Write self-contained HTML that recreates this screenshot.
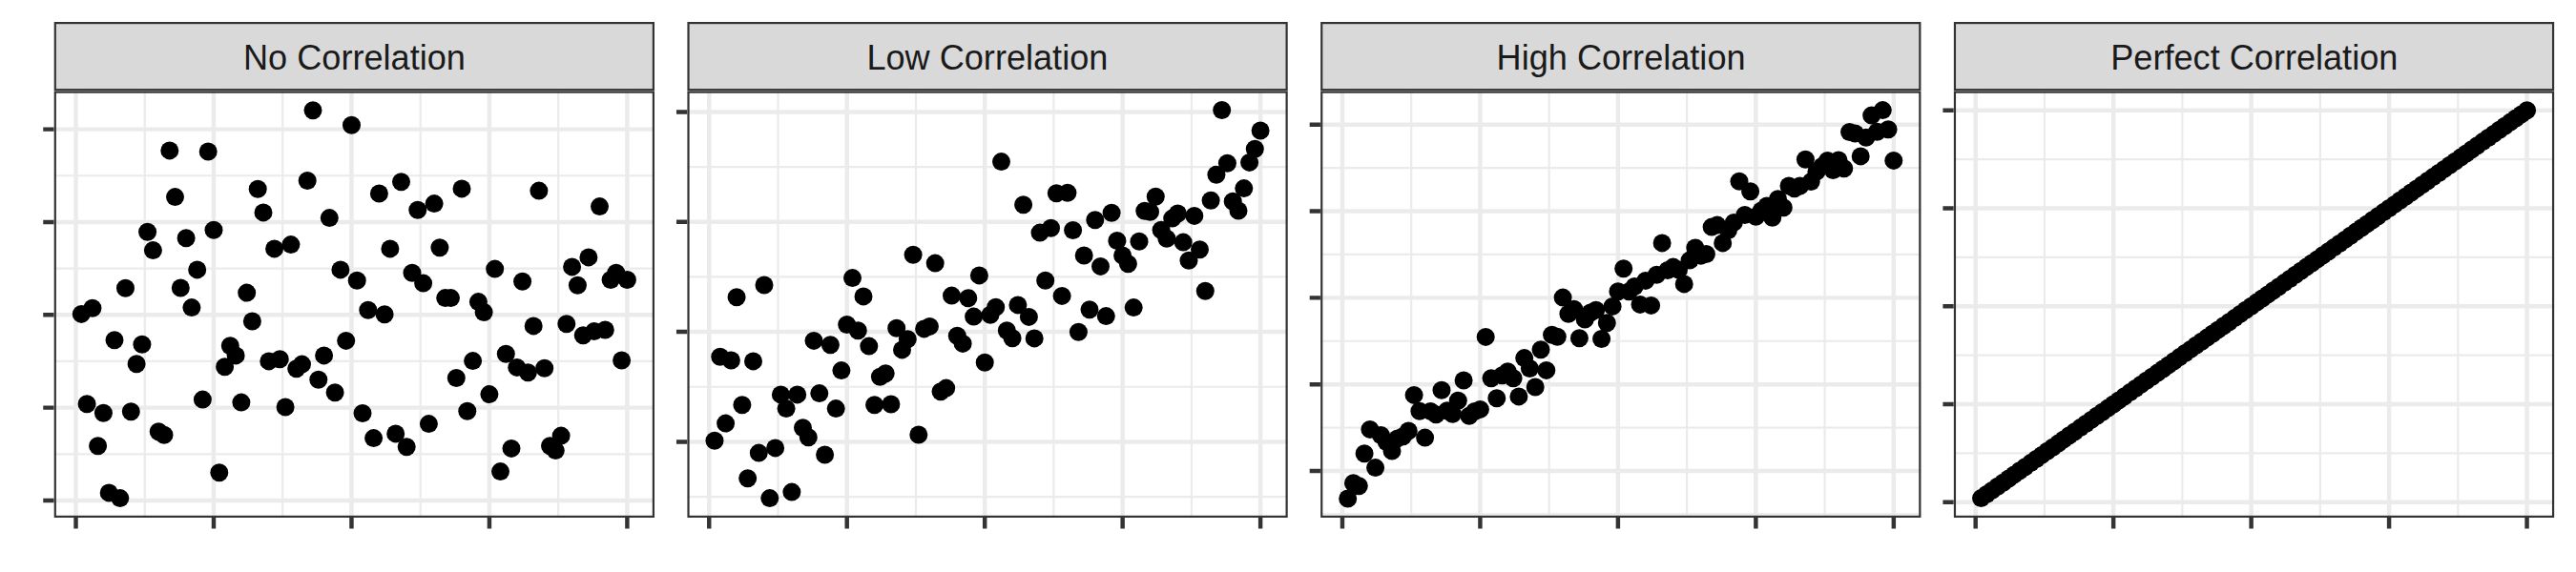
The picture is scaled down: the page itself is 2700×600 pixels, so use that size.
<!DOCTYPE html>
<html><head><meta charset="utf-8"><title>Correlation</title>
<style>html,body{margin:0;padding:0;background:#fff}svg{display:block}text{font-family:"Liberation Sans",Arial,Helvetica,sans-serif}</style></head>
<body>
<svg width="2700" height="600" viewBox="0 0 2700 600">
<rect width="2700" height="600" fill="#fff"/>
<g>
<rect x="56.70" y="95.50" width="629.30" height="447.50" fill="#fff"/>
<path d="M56.70 184.27H686.00M56.70 281.61H686.00M56.70 378.95H686.00M56.70 476.28H686.00M151.76 95.50V543.00M296.23 95.50V543.00M440.69 95.50V543.00M585.16 95.50V543.00" stroke="#ebebeb" stroke-width="2.2" fill="none"/>
<path d="M56.70 135.60H686.00M56.70 232.94H686.00M56.70 330.28H686.00M56.70 427.61H686.00M56.70 524.95H686.00M79.53 95.50V543.00M223.99 95.50V543.00M368.46 95.50V543.00M512.93 95.50V543.00M657.40 95.50V543.00" stroke="#ebebeb" stroke-width="4.45" fill="none"/>
<g fill="#000"><circle cx="85.3" cy="329.4" r="9.5"/><circle cx="91.1" cy="423.7" r="9.5"/><circle cx="96.9" cy="323.2" r="9.5"/><circle cx="102.6" cy="467.7" r="9.5"/><circle cx="108.4" cy="433.2" r="9.5"/><circle cx="114.2" cy="516.9" r="9.5"/><circle cx="120.0" cy="356.8" r="9.5"/><circle cx="125.8" cy="522.6" r="9.5"/><circle cx="131.5" cy="302.2" r="9.5"/><circle cx="137.3" cy="431.8" r="9.5"/><circle cx="143.1" cy="381.8" r="9.5"/><circle cx="148.9" cy="361.2" r="9.5"/><circle cx="154.6" cy="243.3" r="9.5"/><circle cx="160.4" cy="262.6" r="9.5"/><circle cx="166.2" cy="452.8" r="9.5"/><circle cx="172.0" cy="456.3" r="9.5"/><circle cx="177.8" cy="157.9" r="9.5"/><circle cx="183.5" cy="206.6" r="9.5"/><circle cx="189.3" cy="302.0" r="9.5"/><circle cx="195.1" cy="249.8" r="9.5"/><circle cx="200.9" cy="322.6" r="9.5"/><circle cx="206.7" cy="282.9" r="9.5"/><circle cx="212.4" cy="419.1" r="9.5"/><circle cx="218.2" cy="159.0" r="9.5"/><circle cx="224.0" cy="241.3" r="9.5"/><circle cx="229.8" cy="495.7" r="9.5"/><circle cx="235.6" cy="384.8" r="9.5"/><circle cx="241.3" cy="362.8" r="9.5"/><circle cx="247.1" cy="372.9" r="9.5"/><circle cx="252.9" cy="422.1" r="9.5"/><circle cx="258.7" cy="307.1" r="9.5"/><circle cx="264.4" cy="337.0" r="9.5"/><circle cx="270.2" cy="198.2" r="9.5"/><circle cx="276.0" cy="222.9" r="9.5"/><circle cx="281.8" cy="378.9" r="9.5"/><circle cx="287.6" cy="260.9" r="9.5"/><circle cx="293.3" cy="376.7" r="9.5"/><circle cx="299.1" cy="427.0" r="9.5"/><circle cx="304.9" cy="256.6" r="9.5"/><circle cx="310.7" cy="386.7" r="9.5"/><circle cx="316.5" cy="382.1" r="9.5"/><circle cx="322.2" cy="189.5" r="9.5"/><circle cx="328.0" cy="115.8" r="9.5"/><circle cx="333.8" cy="398.2" r="9.5"/><circle cx="339.6" cy="372.9" r="9.5"/><circle cx="345.3" cy="228.6" r="9.5"/><circle cx="351.1" cy="411.7" r="9.5"/><circle cx="356.9" cy="282.9" r="9.5"/><circle cx="362.7" cy="357.4" r="9.5"/><circle cx="368.5" cy="131.3" r="9.5"/><circle cx="374.2" cy="294.3" r="9.5"/><circle cx="380.0" cy="433.5" r="9.5"/><circle cx="385.8" cy="325.3" r="9.5"/><circle cx="391.6" cy="459.6" r="9.5"/><circle cx="397.4" cy="203.0" r="9.5"/><circle cx="403.1" cy="329.7" r="9.5"/><circle cx="408.9" cy="260.9" r="9.5"/><circle cx="414.7" cy="454.9" r="9.5"/><circle cx="420.5" cy="190.8" r="9.5"/><circle cx="426.2" cy="468.8" r="9.5"/><circle cx="432.0" cy="286.2" r="9.5"/><circle cx="437.8" cy="220.2" r="9.5"/><circle cx="443.6" cy="297.1" r="9.5"/><circle cx="449.4" cy="444.6" r="9.5"/><circle cx="455.1" cy="213.6" r="9.5"/><circle cx="460.9" cy="259.8" r="9.5"/><circle cx="466.7" cy="312.6" r="9.5"/><circle cx="472.5" cy="312.6" r="9.5"/><circle cx="478.3" cy="396.5" r="9.5"/><circle cx="484.0" cy="197.9" r="9.5"/><circle cx="489.8" cy="431.3" r="9.5"/><circle cx="495.6" cy="378.6" r="9.5"/><circle cx="501.4" cy="316.6" r="9.5"/><circle cx="507.1" cy="327.5" r="9.5"/><circle cx="512.9" cy="413.6" r="9.5"/><circle cx="518.7" cy="282.1" r="9.5"/><circle cx="524.5" cy="494.6" r="9.5"/><circle cx="530.3" cy="371.2" r="9.5"/><circle cx="536.0" cy="470.4" r="9.5"/><circle cx="541.8" cy="385.4" r="9.5"/><circle cx="547.6" cy="295.2" r="9.5"/><circle cx="553.4" cy="390.8" r="9.5"/><circle cx="559.2" cy="341.9" r="9.5"/><circle cx="564.9" cy="200.1" r="9.5"/><circle cx="570.7" cy="386.2" r="9.5"/><circle cx="576.5" cy="467.7" r="9.5"/><circle cx="582.3" cy="472.6" r="9.5"/><circle cx="588.1" cy="457.1" r="9.5"/><circle cx="593.8" cy="339.7" r="9.5"/><circle cx="599.6" cy="279.9" r="9.5"/><circle cx="605.4" cy="299.2" r="9.5"/><circle cx="611.2" cy="351.7" r="9.5"/><circle cx="616.9" cy="269.9" r="9.5"/><circle cx="622.7" cy="347.6" r="9.5"/><circle cx="628.5" cy="216.6" r="9.5"/><circle cx="634.3" cy="346.0" r="9.5"/><circle cx="640.1" cy="293.5" r="9.5"/><circle cx="645.8" cy="286.2" r="9.5"/><circle cx="651.6" cy="378.0" r="9.5"/><circle cx="657.4" cy="293.5" r="9.5"/></g>
<rect x="57.80" y="96.60" width="627.10" height="445.30" fill="none" stroke="#333" stroke-width="2.2"/>
<rect x="57.80" y="24.10" width="627.10" height="70.10" fill="#d9d9d9" stroke="#333" stroke-width="2.2"/>
<text transform="translate(371.45 73.1) scale(0.971 1)" font-size="37.2" text-anchor="middle" fill="#1a1a1a">No Correlation</text>
<path d="M45.25 135.60H56.50M45.25 232.94H56.50M45.25 330.28H56.50M45.25 427.61H56.50M45.25 524.95H56.50M79.53 543.10V554.50M223.99 543.10V554.50M368.46 543.10V554.50M512.93 543.10V554.50M657.40 543.10V554.50" stroke="#333" stroke-width="4.45" fill="none"/>
</g>
<g>
<rect x="720.42" y="95.50" width="629.30" height="447.50" fill="#fff"/>
<path d="M720.42 175.06H1349.72M720.42 290.39H1349.72M720.42 405.74H1349.72M720.42 521.06H1349.72M815.48 95.50V543.00M959.95 95.50V543.00M1104.41 95.50V543.00M1248.88 95.50V543.00" stroke="#ebebeb" stroke-width="2.2" fill="none"/>
<path d="M720.42 117.40H1349.72M720.42 232.73H1349.72M720.42 348.07H1349.72M720.42 463.40H1349.72M743.25 95.50V543.00M887.71 95.50V543.00M1032.18 95.50V543.00M1176.65 95.50V543.00M1321.12 95.50V543.00" stroke="#ebebeb" stroke-width="4.45" fill="none"/>
<g fill="#000"><circle cx="749.0" cy="462.3" r="9.5"/><circle cx="754.8" cy="374.2" r="9.5"/><circle cx="760.6" cy="444.1" r="9.5"/><circle cx="766.4" cy="378.0" r="9.5"/><circle cx="772.1" cy="311.7" r="9.5"/><circle cx="777.9" cy="424.8" r="9.5"/><circle cx="783.7" cy="501.7" r="9.5"/><circle cx="789.5" cy="378.9" r="9.5"/><circle cx="795.3" cy="475.1" r="9.5"/><circle cx="801.0" cy="299.0" r="9.5"/><circle cx="806.8" cy="522.6" r="9.5"/><circle cx="812.6" cy="469.9" r="9.5"/><circle cx="818.4" cy="413.9" r="9.5"/><circle cx="824.1" cy="428.6" r="9.5"/><circle cx="829.9" cy="516.1" r="9.5"/><circle cx="835.7" cy="413.9" r="9.5"/><circle cx="841.5" cy="448.7" r="9.5"/><circle cx="847.3" cy="458.8" r="9.5"/><circle cx="853.0" cy="357.4" r="9.5"/><circle cx="858.8" cy="412.6" r="9.5"/><circle cx="864.6" cy="477.0" r="9.5"/><circle cx="870.4" cy="361.7" r="9.5"/><circle cx="876.2" cy="428.6" r="9.5"/><circle cx="881.9" cy="388.6" r="9.5"/><circle cx="887.7" cy="340.5" r="9.5"/><circle cx="893.5" cy="291.6" r="9.5"/><circle cx="899.3" cy="346.8" r="9.5"/><circle cx="905.0" cy="310.9" r="9.5"/><circle cx="910.8" cy="363.1" r="9.5"/><circle cx="916.6" cy="424.8" r="9.5"/><circle cx="922.4" cy="395.2" r="9.5"/><circle cx="928.2" cy="391.7" r="9.5"/><circle cx="933.9" cy="424.0" r="9.5"/><circle cx="939.7" cy="344.3" r="9.5"/><circle cx="945.5" cy="366.9" r="9.5"/><circle cx="951.3" cy="355.8" r="9.5"/><circle cx="957.1" cy="267.2" r="9.5"/><circle cx="962.8" cy="456.0" r="9.5"/><circle cx="968.6" cy="344.9" r="9.5"/><circle cx="974.4" cy="342.4" r="9.5"/><circle cx="980.2" cy="276.1" r="9.5"/><circle cx="986.0" cy="410.7" r="9.5"/><circle cx="991.7" cy="407.1" r="9.5"/><circle cx="997.5" cy="310.1" r="9.5"/><circle cx="1003.3" cy="352.2" r="9.5"/><circle cx="1009.1" cy="360.4" r="9.5"/><circle cx="1014.8" cy="312.8" r="9.5"/><circle cx="1020.6" cy="332.1" r="9.5"/><circle cx="1026.4" cy="288.9" r="9.5"/><circle cx="1032.2" cy="380.2" r="9.5"/><circle cx="1038.0" cy="330.2" r="9.5"/><circle cx="1043.7" cy="322.3" r="9.5"/><circle cx="1049.5" cy="169.6" r="9.5"/><circle cx="1055.3" cy="346.8" r="9.5"/><circle cx="1061.1" cy="354.7" r="9.5"/><circle cx="1066.9" cy="319.9" r="9.5"/><circle cx="1072.6" cy="214.7" r="9.5"/><circle cx="1078.4" cy="332.4" r="9.5"/><circle cx="1084.2" cy="354.9" r="9.5"/><circle cx="1090.0" cy="244.1" r="9.5"/><circle cx="1095.7" cy="294.3" r="9.5"/><circle cx="1101.5" cy="239.3" r="9.5"/><circle cx="1107.3" cy="202.8" r="9.5"/><circle cx="1113.1" cy="310.4" r="9.5"/><circle cx="1118.9" cy="202.2" r="9.5"/><circle cx="1124.6" cy="241.5" r="9.5"/><circle cx="1130.4" cy="348.2" r="9.5"/><circle cx="1136.2" cy="268.0" r="9.5"/><circle cx="1142.0" cy="324.8" r="9.5"/><circle cx="1147.8" cy="230.8" r="9.5"/><circle cx="1153.5" cy="279.4" r="9.5"/><circle cx="1159.3" cy="331.6" r="9.5"/><circle cx="1165.1" cy="223.2" r="9.5"/><circle cx="1170.9" cy="252.5" r="9.5"/><circle cx="1176.6" cy="268.0" r="9.5"/><circle cx="1182.4" cy="276.7" r="9.5"/><circle cx="1188.2" cy="322.6" r="9.5"/><circle cx="1194.0" cy="253.3" r="9.5"/><circle cx="1199.8" cy="221.3" r="9.5"/><circle cx="1205.5" cy="222.3" r="9.5"/><circle cx="1211.3" cy="206.3" r="9.5"/><circle cx="1217.1" cy="241.2" r="9.5"/><circle cx="1222.9" cy="250.3" r="9.5"/><circle cx="1228.7" cy="229.1" r="9.5"/><circle cx="1234.4" cy="224.0" r="9.5"/><circle cx="1240.2" cy="254.1" r="9.5"/><circle cx="1246.0" cy="273.2" r="9.5"/><circle cx="1251.8" cy="226.4" r="9.5"/><circle cx="1257.5" cy="261.7" r="9.5"/><circle cx="1263.3" cy="305.2" r="9.5"/><circle cx="1269.1" cy="210.2" r="9.5"/><circle cx="1274.9" cy="183.2" r="9.5"/><circle cx="1280.7" cy="115.5" r="9.5"/><circle cx="1286.4" cy="171.2" r="9.5"/><circle cx="1292.2" cy="211.2" r="9.5"/><circle cx="1298.0" cy="221.0" r="9.5"/><circle cx="1303.8" cy="197.6" r="9.5"/><circle cx="1309.6" cy="170.4" r="9.5"/><circle cx="1315.3" cy="156.3" r="9.5"/><circle cx="1321.1" cy="137.0" r="9.5"/></g>
<rect x="721.52" y="96.60" width="627.10" height="445.30" fill="none" stroke="#333" stroke-width="2.2"/>
<rect x="721.52" y="24.10" width="627.10" height="70.10" fill="#d9d9d9" stroke="#333" stroke-width="2.2"/>
<text transform="translate(1034.87 73.1) scale(0.971 1)" font-size="37.2" text-anchor="middle" fill="#1a1a1a">Low Correlation</text>
<path d="M708.97 117.40H720.22M708.97 232.73H720.22M708.97 348.07H720.22M708.97 463.40H720.22M743.25 543.10V554.50M887.71 543.10V554.50M1032.18 543.10V554.50M1176.65 543.10V554.50M1321.12 543.10V554.50" stroke="#333" stroke-width="4.45" fill="none"/>
</g>
<g>
<rect x="1384.14" y="95.50" width="629.30" height="447.50" fill="#fff"/>
<path d="M1384.14 176.12H2013.44M1384.14 266.94H2013.44M1384.14 357.77H2013.44M1384.14 448.60H2013.44M1384.14 539.41H2013.44M1479.20 95.50V543.00M1623.67 95.50V543.00M1768.13 95.50V543.00M1912.60 95.50V543.00" stroke="#ebebeb" stroke-width="2.2" fill="none"/>
<path d="M1384.14 130.70H2013.44M1384.14 221.53H2013.44M1384.14 312.35H2013.44M1384.14 403.18H2013.44M1384.14 494.00H2013.44M1406.97 95.50V543.00M1551.43 95.50V543.00M1695.90 95.50V543.00M1840.37 95.50V543.00M1984.84 95.50V543.00" stroke="#ebebeb" stroke-width="4.45" fill="none"/>
<g fill="#000"><circle cx="1412.7" cy="523.0" r="9.5"/><circle cx="1418.5" cy="506.7" r="9.5"/><circle cx="1424.3" cy="509.8" r="9.5"/><circle cx="1430.1" cy="475.7" r="9.5"/><circle cx="1435.9" cy="450.4" r="9.5"/><circle cx="1441.6" cy="490.6" r="9.5"/><circle cx="1447.4" cy="456.5" r="9.5"/><circle cx="1453.2" cy="463.5" r="9.5"/><circle cx="1459.0" cy="473.0" r="9.5"/><circle cx="1464.8" cy="459.9" r="9.5"/><circle cx="1470.5" cy="457.8" r="9.5"/><circle cx="1476.3" cy="452.0" r="9.5"/><circle cx="1482.1" cy="414.4" r="9.5"/><circle cx="1487.9" cy="431.2" r="9.5"/><circle cx="1493.6" cy="459.1" r="9.5"/><circle cx="1499.4" cy="431.4" r="9.5"/><circle cx="1505.2" cy="434.8" r="9.5"/><circle cx="1511.0" cy="409.2" r="9.5"/><circle cx="1516.8" cy="430.8" r="9.5"/><circle cx="1522.5" cy="434.2" r="9.5"/><circle cx="1528.3" cy="420.2" r="9.5"/><circle cx="1534.1" cy="399.0" r="9.5"/><circle cx="1539.9" cy="436.3" r="9.5"/><circle cx="1545.7" cy="431.5" r="9.5"/><circle cx="1551.4" cy="429.4" r="9.5"/><circle cx="1557.2" cy="353.4" r="9.5"/><circle cx="1563.0" cy="396.7" r="9.5"/><circle cx="1568.8" cy="417.7" r="9.5"/><circle cx="1574.5" cy="393.8" r="9.5"/><circle cx="1580.3" cy="389.7" r="9.5"/><circle cx="1586.1" cy="396.8" r="9.5"/><circle cx="1591.9" cy="415.9" r="9.5"/><circle cx="1597.7" cy="375.6" r="9.5"/><circle cx="1603.4" cy="386.5" r="9.5"/><circle cx="1609.2" cy="406.0" r="9.5"/><circle cx="1615.0" cy="366.8" r="9.5"/><circle cx="1620.8" cy="388.4" r="9.5"/><circle cx="1626.6" cy="351.3" r="9.5"/><circle cx="1632.3" cy="353.3" r="9.5"/><circle cx="1638.1" cy="312.1" r="9.5"/><circle cx="1643.9" cy="329.2" r="9.5"/><circle cx="1649.7" cy="324.3" r="9.5"/><circle cx="1655.4" cy="354.7" r="9.5"/><circle cx="1661.2" cy="335.1" r="9.5"/><circle cx="1667.0" cy="328.0" r="9.5"/><circle cx="1672.8" cy="325.2" r="9.5"/><circle cx="1678.6" cy="355.5" r="9.5"/><circle cx="1684.3" cy="338.8" r="9.5"/><circle cx="1690.1" cy="321.4" r="9.5"/><circle cx="1695.9" cy="305.7" r="9.5"/><circle cx="1701.7" cy="281.7" r="9.5"/><circle cx="1707.5" cy="305.7" r="9.5"/><circle cx="1713.2" cy="300.5" r="9.5"/><circle cx="1719.0" cy="319.4" r="9.5"/><circle cx="1724.8" cy="294.4" r="9.5"/><circle cx="1730.6" cy="320.4" r="9.5"/><circle cx="1736.4" cy="288.3" r="9.5"/><circle cx="1742.1" cy="254.9" r="9.5"/><circle cx="1747.9" cy="283.5" r="9.5"/><circle cx="1753.7" cy="280.1" r="9.5"/><circle cx="1759.5" cy="283.0" r="9.5"/><circle cx="1765.2" cy="297.9" r="9.5"/><circle cx="1771.0" cy="273.1" r="9.5"/><circle cx="1776.8" cy="260.0" r="9.5"/><circle cx="1782.6" cy="268.2" r="9.5"/><circle cx="1788.4" cy="266.5" r="9.5"/><circle cx="1794.1" cy="238.1" r="9.5"/><circle cx="1799.9" cy="236.1" r="9.5"/><circle cx="1805.7" cy="254.9" r="9.5"/><circle cx="1811.5" cy="241.5" r="9.5"/><circle cx="1817.3" cy="233.4" r="9.5"/><circle cx="1823.0" cy="190.3" r="9.5"/><circle cx="1828.8" cy="225.5" r="9.5"/><circle cx="1834.6" cy="200.8" r="9.5"/><circle cx="1840.4" cy="227.2" r="9.5"/><circle cx="1846.1" cy="221.0" r="9.5"/><circle cx="1851.9" cy="216.0" r="9.5"/><circle cx="1857.7" cy="228.3" r="9.5"/><circle cx="1863.5" cy="208.7" r="9.5"/><circle cx="1869.3" cy="217.8" r="9.5"/><circle cx="1875.0" cy="194.9" r="9.5"/><circle cx="1880.8" cy="197.8" r="9.5"/><circle cx="1886.6" cy="195.0" r="9.5"/><circle cx="1892.4" cy="167.2" r="9.5"/><circle cx="1898.2" cy="190.6" r="9.5"/><circle cx="1903.9" cy="180.0" r="9.5"/><circle cx="1909.7" cy="174.5" r="9.5"/><circle cx="1915.5" cy="168.4" r="9.5"/><circle cx="1921.3" cy="178.5" r="9.5"/><circle cx="1927.0" cy="167.9" r="9.5"/><circle cx="1932.8" cy="176.7" r="9.5"/><circle cx="1938.6" cy="138.5" r="9.5"/><circle cx="1944.4" cy="140.0" r="9.5"/><circle cx="1950.2" cy="163.9" r="9.5"/><circle cx="1955.9" cy="144.2" r="9.5"/><circle cx="1961.7" cy="121.1" r="9.5"/><circle cx="1967.5" cy="138.2" r="9.5"/><circle cx="1973.3" cy="115.6" r="9.5"/><circle cx="1979.1" cy="135.8" r="9.5"/><circle cx="1984.8" cy="168.4" r="9.5"/></g>
<rect x="1385.24" y="96.60" width="627.10" height="445.30" fill="none" stroke="#333" stroke-width="2.2"/>
<rect x="1385.24" y="24.10" width="627.10" height="70.10" fill="#d9d9d9" stroke="#333" stroke-width="2.2"/>
<text transform="translate(1699.09 73.1) scale(0.971 1)" font-size="37.2" text-anchor="middle" fill="#1a1a1a">High Correlation</text>
<path d="M1372.69 130.70H1383.94M1372.69 221.53H1383.94M1372.69 312.35H1383.94M1372.69 403.18H1383.94M1372.69 494.00H1383.94M1406.97 543.10V554.50M1551.43 543.10V554.50M1695.90 543.10V554.50M1840.37 543.10V554.50M1984.84 543.10V554.50" stroke="#333" stroke-width="4.45" fill="none"/>
</g>
<g>
<rect x="2047.86" y="95.50" width="629.30" height="447.50" fill="#fff"/>
<path d="M2047.86 167.12H2677.16M2047.86 269.88H2677.16M2047.86 372.61H2677.16M2047.86 475.35H2677.16M2142.92 95.50V543.00M2287.39 95.50V543.00M2431.85 95.50V543.00M2576.32 95.50V543.00" stroke="#ebebeb" stroke-width="2.2" fill="none"/>
<path d="M2047.86 115.75H2677.16M2047.86 218.50H2677.16M2047.86 321.23H2677.16M2047.86 423.97H2677.16M2047.86 526.70H2677.16M2070.69 95.50V543.00M2215.15 95.50V543.00M2359.62 95.50V543.00M2504.09 95.50V543.00M2648.56 95.50V543.00" stroke="#ebebeb" stroke-width="4.45" fill="none"/>
<g fill="#000"><circle cx="2076.5" cy="522.6" r="9.5"/><circle cx="2082.2" cy="518.5" r="9.5"/><circle cx="2088.0" cy="514.4" r="9.5"/><circle cx="2093.8" cy="510.3" r="9.5"/><circle cx="2099.6" cy="506.2" r="9.5"/><circle cx="2105.4" cy="502.0" r="9.5"/><circle cx="2111.1" cy="497.9" r="9.5"/><circle cx="2116.9" cy="493.8" r="9.5"/><circle cx="2122.7" cy="489.7" r="9.5"/><circle cx="2128.5" cy="485.6" r="9.5"/><circle cx="2134.3" cy="481.5" r="9.5"/><circle cx="2140.0" cy="477.4" r="9.5"/><circle cx="2145.8" cy="473.3" r="9.5"/><circle cx="2151.6" cy="469.2" r="9.5"/><circle cx="2157.4" cy="465.1" r="9.5"/><circle cx="2163.1" cy="460.9" r="9.5"/><circle cx="2168.9" cy="456.8" r="9.5"/><circle cx="2174.7" cy="452.7" r="9.5"/><circle cx="2180.5" cy="448.6" r="9.5"/><circle cx="2186.3" cy="444.5" r="9.5"/><circle cx="2192.0" cy="440.4" r="9.5"/><circle cx="2197.8" cy="436.3" r="9.5"/><circle cx="2203.6" cy="432.2" r="9.5"/><circle cx="2209.4" cy="428.1" r="9.5"/><circle cx="2215.2" cy="424.0" r="9.5"/><circle cx="2220.9" cy="419.9" r="9.5"/><circle cx="2226.7" cy="415.7" r="9.5"/><circle cx="2232.5" cy="411.6" r="9.5"/><circle cx="2238.3" cy="407.5" r="9.5"/><circle cx="2244.0" cy="403.4" r="9.5"/><circle cx="2249.8" cy="399.3" r="9.5"/><circle cx="2255.6" cy="395.2" r="9.5"/><circle cx="2261.4" cy="391.1" r="9.5"/><circle cx="2267.2" cy="387.0" r="9.5"/><circle cx="2272.9" cy="382.9" r="9.5"/><circle cx="2278.7" cy="378.8" r="9.5"/><circle cx="2284.5" cy="374.6" r="9.5"/><circle cx="2290.3" cy="370.5" r="9.5"/><circle cx="2296.1" cy="366.4" r="9.5"/><circle cx="2301.8" cy="362.3" r="9.5"/><circle cx="2307.6" cy="358.2" r="9.5"/><circle cx="2313.4" cy="354.1" r="9.5"/><circle cx="2319.2" cy="350.0" r="9.5"/><circle cx="2324.9" cy="345.9" r="9.5"/><circle cx="2330.7" cy="341.8" r="9.5"/><circle cx="2336.5" cy="337.7" r="9.5"/><circle cx="2342.3" cy="333.6" r="9.5"/><circle cx="2348.1" cy="329.4" r="9.5"/><circle cx="2353.8" cy="325.3" r="9.5"/><circle cx="2359.6" cy="321.2" r="9.5"/><circle cx="2365.4" cy="317.1" r="9.5"/><circle cx="2371.2" cy="313.0" r="9.5"/><circle cx="2377.0" cy="308.9" r="9.5"/><circle cx="2382.7" cy="304.8" r="9.5"/><circle cx="2388.5" cy="300.7" r="9.5"/><circle cx="2394.3" cy="296.6" r="9.5"/><circle cx="2400.1" cy="292.5" r="9.5"/><circle cx="2405.9" cy="288.3" r="9.5"/><circle cx="2411.6" cy="284.2" r="9.5"/><circle cx="2417.4" cy="280.1" r="9.5"/><circle cx="2423.2" cy="276.0" r="9.5"/><circle cx="2429.0" cy="271.9" r="9.5"/><circle cx="2434.7" cy="267.8" r="9.5"/><circle cx="2440.5" cy="263.7" r="9.5"/><circle cx="2446.3" cy="259.6" r="9.5"/><circle cx="2452.1" cy="255.5" r="9.5"/><circle cx="2457.9" cy="251.4" r="9.5"/><circle cx="2463.6" cy="247.3" r="9.5"/><circle cx="2469.4" cy="243.1" r="9.5"/><circle cx="2475.2" cy="239.0" r="9.5"/><circle cx="2481.0" cy="234.9" r="9.5"/><circle cx="2486.8" cy="230.8" r="9.5"/><circle cx="2492.5" cy="226.7" r="9.5"/><circle cx="2498.3" cy="222.6" r="9.5"/><circle cx="2504.1" cy="218.5" r="9.5"/><circle cx="2509.9" cy="214.4" r="9.5"/><circle cx="2515.6" cy="210.3" r="9.5"/><circle cx="2521.4" cy="206.2" r="9.5"/><circle cx="2527.2" cy="202.0" r="9.5"/><circle cx="2533.0" cy="197.9" r="9.5"/><circle cx="2538.8" cy="193.8" r="9.5"/><circle cx="2544.5" cy="189.7" r="9.5"/><circle cx="2550.3" cy="185.6" r="9.5"/><circle cx="2556.1" cy="181.5" r="9.5"/><circle cx="2561.9" cy="177.4" r="9.5"/><circle cx="2567.7" cy="173.3" r="9.5"/><circle cx="2573.4" cy="169.2" r="9.5"/><circle cx="2579.2" cy="165.1" r="9.5"/><circle cx="2585.0" cy="161.0" r="9.5"/><circle cx="2590.8" cy="156.8" r="9.5"/><circle cx="2596.5" cy="152.7" r="9.5"/><circle cx="2602.3" cy="148.6" r="9.5"/><circle cx="2608.1" cy="144.5" r="9.5"/><circle cx="2613.9" cy="140.4" r="9.5"/><circle cx="2619.7" cy="136.3" r="9.5"/><circle cx="2625.4" cy="132.2" r="9.5"/><circle cx="2631.2" cy="128.1" r="9.5"/><circle cx="2637.0" cy="124.0" r="9.5"/><circle cx="2642.8" cy="119.9" r="9.5"/><circle cx="2648.6" cy="115.8" r="9.5"/></g>
<rect x="2048.96" y="96.60" width="627.10" height="445.30" fill="none" stroke="#333" stroke-width="2.2"/>
<rect x="2048.96" y="24.10" width="627.10" height="70.10" fill="#d9d9d9" stroke="#333" stroke-width="2.2"/>
<text transform="translate(2362.81 73.1) scale(0.971 1)" font-size="37.2" text-anchor="middle" fill="#1a1a1a">Perfect Correlation</text>
<path d="M2036.41 115.75H2047.66M2036.41 218.50H2047.66M2036.41 321.23H2047.66M2036.41 423.97H2047.66M2036.41 526.70H2047.66M2070.69 543.10V554.50M2215.15 543.10V554.50M2359.62 543.10V554.50M2504.09 543.10V554.50M2648.56 543.10V554.50" stroke="#333" stroke-width="4.45" fill="none"/>
</g>
</svg>
</body></html>
